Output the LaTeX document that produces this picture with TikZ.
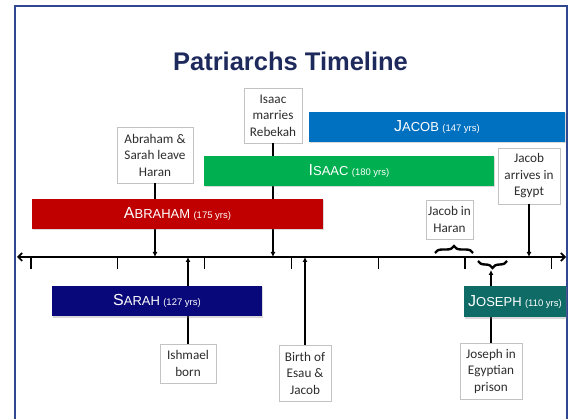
\documentclass[tikz,border=0pt]{standalone}
\usepackage{fontspec}
\setmainfont{Carlito}
\newfontfamily\arialfont{Liberation Sans}
\usetikzlibrary{arrows.meta,decorations.pathreplacing,shadows}

\definecolor{framecol}{RGB}{47,72,143}
\definecolor{titlecol}{RGB}{31,42,92}
\definecolor{boxgray}{RGB}{195,195,195}
\definecolor{boxtext}{RGB}{45,45,45}
\definecolor{abrahamred}{RGB}{192,0,0}
\definecolor{isaacgreen}{RGB}{0,176,80}
\definecolor{jacobblue}{RGB}{0,112,192}
\definecolor{sarahnavy}{RGB}{8,8,122}
\definecolor{josephteal}{RGB}{15,107,102}

% big first letter, small caps, small years
\newcommand\barname[3]{{\fontsize{16}{16}\selectfont #1}{\fontsize{13}{13}\selectfont #2}\,\,{\fontsize{9.5}{9.5}\selectfont (#3 yrs)}}

\tikzset{
  bar/.style={text=white, inner sep=0pt, font=\arialfont,
    drop shadow={shadow xshift=1pt, shadow yshift=-1.5pt, opacity=0.3}},
  evbox/.style={draw=boxgray, fill=white, line width=0.6pt, align=center,
    inner sep=0pt, text=boxtext, font=\fontsize{13.2}{16.5}\selectfont},
  link/.style={line width=1.6pt, -{Latex[length=5pt,width=5pt]}},
  axisline/.style={line width=1.7pt, {Straight Barb[length=4pt,width=8pt]}-{Straight Barb[length=4pt,width=8pt]}},
  bracket/.style={line width=2.4pt, decorate, decoration={brace, amplitude=7pt}},
}

\begin{document}
\begin{tikzpicture}[x=1pt,y=-1pt]
\useasboundingbox (0,0) rectangle (575,419);
\def\ax{257} % height of the axis
% frame, cut at the bottom
\draw[framecol, line width=1.5pt] (15,419) -- (15,6) -- (567,6) -- (567,419);
\node[font=\arialfont\bfseries\fontsize{25.5}{25.5}\selectfont, text=titlecol] (title) at (290.5,61) {Patriarchs Timeline};

% events above the axis
\node[evbox, minimum width=76pt, minimum height=56pt] (leave) at (155,155) {Abraham \&\\Sarah leave\\Haran};
\node[evbox, minimum width=58pt, minimum height=55pt] (marries) at (273,115.5) {Isaac\\marries\\Rebekah};
\node[evbox, minimum width=62pt, minimum height=56pt] (arrives) at (529,176) {Jacob\\arrives in\\Egypt};
\node[evbox, minimum width=47pt, minimum height=39pt] (haran) at (449.5,219.5) {Jacob in\\Haran};
% events below the axis
\node[evbox, minimum width=56pt, minimum height=39pt] (ishmael) at (188,363.5) {Ishmael\\born};
\node[evbox, minimum width=52pt, minimum height=56pt] (esau) at (305,373) {Birth of\\Esau \&\\Jacob};
\node[evbox, minimum width=62pt, minimum height=56pt] (prison) at (491,371) {Joseph in\\Egyptian\\prison};

% axis
\coordinate (L) at (17,\ax);
\coordinate (R) at (566,\ax);
\draw[axisline] (L) -- (R);
\foreach \t in {0,...,6}
  \draw[line width=1.3pt] (31+86.8*\t,\ax) -- ++(0,12);

\draw[link] (leave) -- (leave |- L);
\draw[link] (marries) -- (marries |- L);
\draw[link] (arrives) -- (arrives |- L);
\draw[link] (ishmael) -- (ishmael |- L);
\draw[link] (esau) -- (esau |- L);
\coordinate (jtip) at (491,270);
\draw[link] (prison) -- (jtip);

\draw[bracket] (435,253) -- (473,253);
\draw[bracket] (507,261) -- (478,261);

% lifetimes
\node[bar, fill=abrahamred, minimum width=291pt, minimum height=30pt] (abraham) at (177.5,214) {\barname{A}{BRAHAM}{175}};
\node[bar, fill=isaacgreen, minimum width=290pt, minimum height=30pt] (isaac) at (349,171) {\barname{I}{SAAC}{180}};
\node[bar, fill=jacobblue, minimum width=256pt, minimum height=30pt] (jacob) at (437,127) {\barname{J}{ACOB}{147}};
\node[bar, fill=sarahnavy, minimum width=210pt, minimum height=30pt] (sarah) at (157,301) {\barname{S}{ARAH}{127}};
\node[bar, fill=josephteal, minimum width=102pt, minimum height=31pt] (joseph) at (515,301.5) {\barname{J}{OSEPH}{110}};
\end{tikzpicture}
\end{document}
